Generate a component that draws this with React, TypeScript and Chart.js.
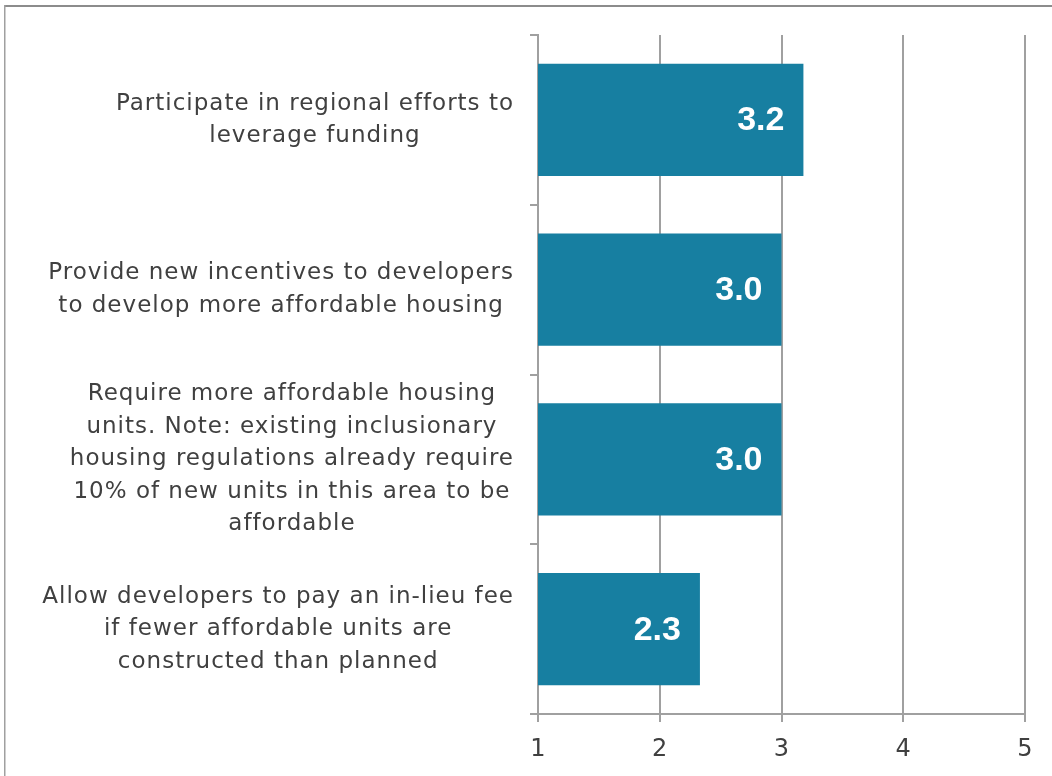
import React, { useEffect, useRef } from "react";
import { Chart, registerables } from "chart.js";
Chart.register(...registerables);

const categories: string[][] = [
  ["Participate in regional efforts to", "leverage funding"],
  ["Provide new incentives to developers", "to develop more affordable housing"],
  [
    "Require more affordable housing",
    "units. Note: existing inclusionary",
    "housing regulations already require",
    "10% of new units in this area to be",
    "affordable",
  ],
  ["Allow developers to pay an in-lieu fee", "if fewer affordable units are", "constructed than planned"],
];
const values = [3.18, 3.0, 3.0, 2.33];
const valueLabels = ["3.2", "3.0", "3.0", "2.3"];
const xMin = 1;
const xMax = 5;

const TEXT = "#404040";
const GRID = "#a0a0a0";
const BAR = "#177fa1";
const LABEL_FONT = '23px "DejaVu Sans"';

export default function App() {
  const ref = useRef<HTMLCanvasElement>(null);
  useEffect(() => {
    const canvas = ref.current!;
    const framePlugin = {
      id: "frame",
      beforeDraw(chart: any) {
        const c = chart.ctx;
        c.save();
        c.fillStyle = "#ffffff";
        c.fillRect(0, 0, chart.width, chart.height);
        c.fillStyle = "#8c8c8c";
        c.fillRect(4, 5, chart.width, 2);
        c.fillStyle = "#a0a0a0";
        c.fillRect(4, 5, 1.5, chart.height);
        c.restore();
      },
    };
    const catPlugin = {
      id: "catLabels",
      afterDraw(chart: any) {
        const c = chart.ctx;
        const ys = chart.scales.y;
        const rightEdge = ys.left - 16;
        c.save();
        c.font = LABEL_FONT;
        (c as any).letterSpacing = "1px";
        c.fillStyle = TEXT;
        c.textAlign = "center";
        c.textBaseline = "middle";
        const lh = 32.5;
        categories.forEach((lines, i) => {
          const cy = ys.getPixelForValue(i);
          const widest = Math.max(...lines.map((l) => c.measureText(l).width));
          const cx = rightEdge - widest / 2;
          const startY = cy - ((lines.length - 1) * lh) / 2;
          lines.forEach((l, j) => c.fillText(l, cx, startY + j * lh));
        });
        c.restore();
      },
    };
    const valPlugin = {
      id: "valLabels",
      afterDatasetsDraw(chart: any) {
        const c = chart.ctx;
        const meta = chart.getDatasetMeta(0);
        c.save();
        c.font = 'bold 34px "Liberation Sans"';
        c.fillStyle = "#ffffff";
        c.textAlign = "right";
        c.textBaseline = "middle";
        meta.data.forEach((el: any, i: number) => {
          c.fillText(valueLabels[i], el.x - 19, el.y + 1);
        });
        c.restore();
      },
    };
    const chart = new Chart(canvas, {
      type: "bar",
      data: {
        labels: categories.map((l) => l.join(" ")),
        datasets: [
          {
            data: values,
            backgroundColor: BAR,
            borderWidth: 0,
            categoryPercentage: 1,
            barPercentage: 0.66,
          },
        ],
      },
      options: {
        indexAxis: "y",
        responsive: false,
        animation: false,
        layout: { padding: { top: 35, left: 530, right: 27, bottom: 0 } },
        plugins: { legend: { display: false }, tooltip: { enabled: false } },
        scales: {
          x: {
            min: xMin,
            max: xMax,
            ticks: {
              stepSize: 1,
              color: TEXT,
              font: { family: "DejaVu Sans", size: 24 },
              padding: 13,
            },
            grid: { color: GRID, lineWidth: 2, tickLength: 8, drawTicks: true },
            border: { display: true, color: GRID, width: 2 },
            afterFit(scale: any) {
              scale.height = 62;
            },
          },
          y: {
            ticks: { display: false },
            grid: { drawOnChartArea: false, color: GRID, lineWidth: 2, tickLength: 8, offset: true },
            border: { display: true, color: GRID, width: 2 },
            afterFit(scale: any) {
              scale.width = 8;
            },
          },
        },
      },
      plugins: [framePlugin, catPlugin, valPlugin],
    });
    return () => chart.destroy();
  }, []);
  return (
    <div style={{ position: "fixed", left: 0, top: 0, width: 1052, height: 776 }}>
      <canvas ref={ref} width={1052} height={776} style={{ display: "block" }} />
    </div>
  );
}
